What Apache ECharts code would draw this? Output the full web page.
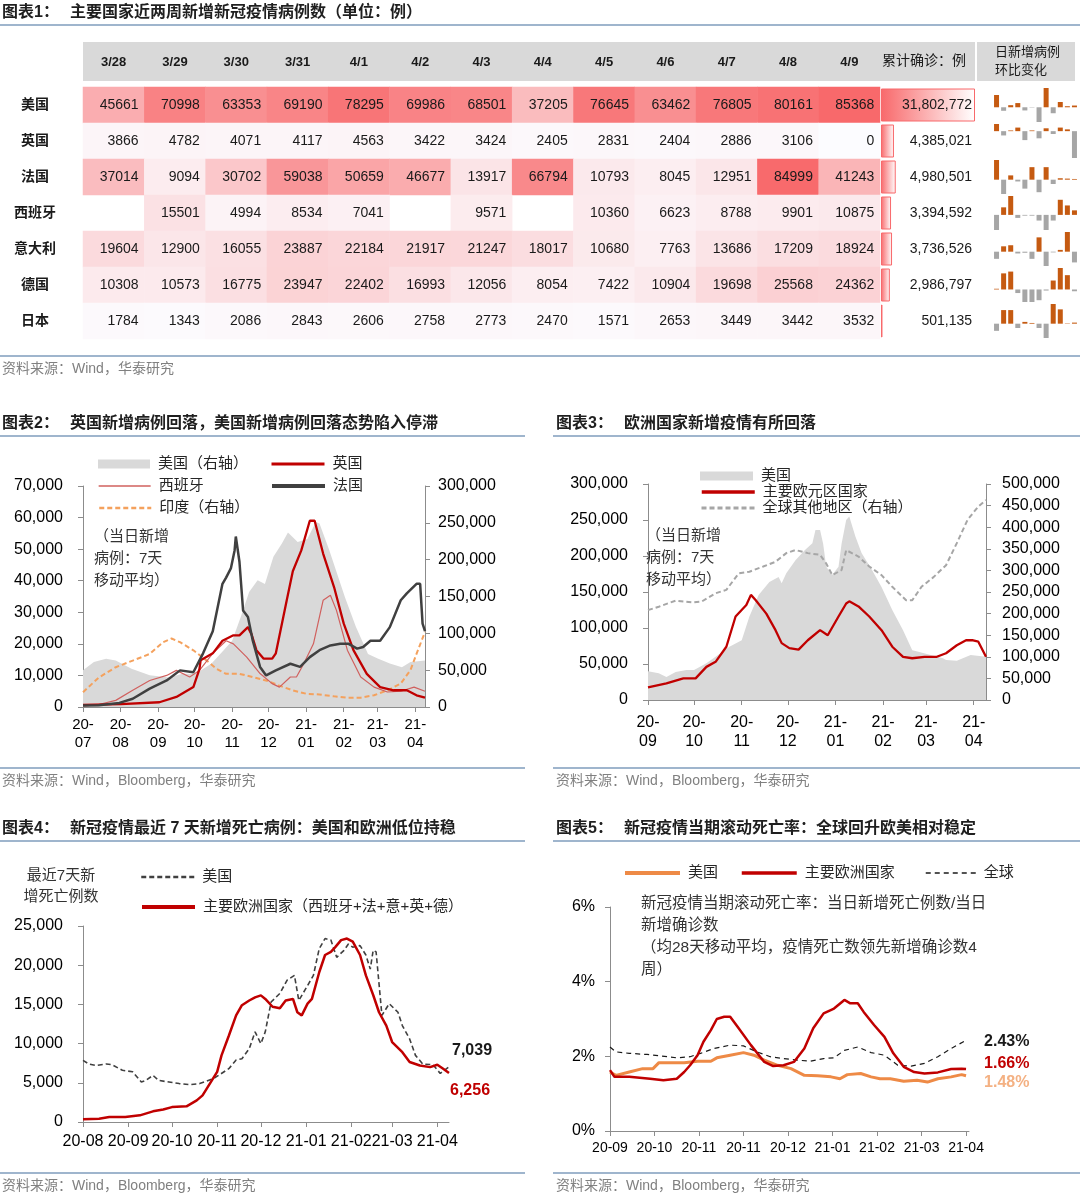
<!DOCTYPE html>
<html><head><meta charset="utf-8">
<script src="https://cdn.jsdelivr.net/npm/echarts@6/dist/echarts.min.js"></script>
<style>html,body{margin:0;padding:0;background:#fff}#main{width:1080px;height:1198px}</style>
</head><body><div id="main"></div>
<script>
const FONT = "'Liberation Sans','Noto Sans CJK SC',sans-serif";

// ---------- Table 1 data ----------
const tableDates = ['3/28','3/29','3/30','3/31','4/1','4/2','4/3','4/4','4/5','4/6','4/7','4/8','4/9'];
const countries = ['美国','英国','法国','西班牙','意大利','德国','日本'];
const casesUS = [45661,70998,63353,69190,78295,69986,68501,37205,76645,63462,76805,80161,85368];
const casesUK = [3866,4782,4071,4117,4563,3422,3424,2405,2831,2404,2886,3106,0];
const casesFR = [37014,9094,30702,59038,50659,46677,13917,66794,10793,8045,12951,84999,41243];
const casesES = [null,15501,4994,8534,7041,null,9571,null,10360,6623,8788,9901,10875];
const casesIT = [19604,12900,16055,23887,22184,21917,21247,18017,10680,7763,13686,17209,18924];
const casesDE = [10308,10573,16775,23947,22402,16993,12056,8054,7422,10904,19698,25568,24362];
const casesJP = [1784,1343,2086,2843,2606,2758,2773,2470,1571,2653,3449,3442,3532];
const cumulative = [31802772,4385021,4980501,3394592,3736526,2986797,501135];
// sparkline (日新增病例环比变化), relative heights
const sparkUS = [35,-10,6,12,-9,-1,-42,55,-17,15,3,5];
const sparkUK = [20,-12,2,10,-25,2,-20,8,-8,10,5,-75];
const sparkFR = [55,-40,12,-5,-25,35,-35,35,-12,4,3,2];
const sparkES = [-40,20,50,-8,-2,-2,-15,-40,-15,40,25,12];
const sparkIT = [-20,15,18,-5,-3,-20,40,-40,-2,5,55,-30];
const sparkDE = [2,45,50,-10,-35,-35,-30,-3,25,60,40,-5];
const sparkJP = [-20,38,38,-12,5,2,-12,-40,55,40,1,3];

// ---------- Chart 2 data (7-day avg) ----------
const c2US = [['2020-07-01',49800],['2020-07-10',61000],['2020-07-20',65600],['2020-07-28',63000],['2020-08-10',52000],['2020-08-25',43000],['2020-09-10',40000],['2020-09-21',45000],['2020-10-02',45000],['2020-10-15',59000],['2020-10-25',77000],['2020-11-01',90000],['2020-11-08',122000],['2020-11-15',156000],['2020-11-22',172000],['2020-11-28',167000],['2020-12-05',204000],['2020-12-12',222000],['2020-12-17',237000],['2020-12-25',224000],['2021-01-02',228000],['2021-01-09',251000],['2021-01-12',249000],['2021-01-20',213000],['2021-02-02',149000],['2021-02-11',109000],['2021-02-21',72000],['2021-03-01',66000],['2021-03-11',59000],['2021-03-21',54000],['2021-03-28',61000],['2021-04-09',63000]];
const c2UK = [['2020-07-01',700],['2020-08-01',900],['2020-09-02',1500],['2020-09-16',3200],['2020-09-30',6300],['2020-10-05',12000],['2020-10-06',14800],['2020-10-16',17000],['2020-10-24',21000],['2020-11-02',22700],['2020-11-07',22700],['2020-11-14',25300],['2020-11-17',23000],['2020-11-21',18000],['2020-11-27',15300],['2020-12-04',15300],['2020-12-07',17000],['2020-12-16',33800],['2020-12-21',43000],['2020-12-28',49600],['2021-01-04',59000],['2021-01-08',59000],['2021-01-15',48600],['2021-01-24',38000],['2021-02-01',26400],['2021-02-09',18000],['2021-02-20',10500],['2021-03-03',6300],['2021-03-14',5300],['2021-03-25',5300],['2021-04-02',3700],['2021-04-09',3000]];
const c2ES = [['2020-07-01',300],['2020-07-14',800],['2020-07-28',2100],['2020-08-11',5300],['2020-08-25',8400],['2020-09-08',10000],['2020-09-16',11600],['2020-09-27',9500],['2020-10-05',11600],['2020-10-16',17000],['2020-10-27',21000],['2020-11-02',20000],['2020-11-13',15800],['2020-11-24',10600],['2020-12-04',7400],['2020-12-10',6300],['2020-12-19',9500],['2020-12-24',9500],['2020-12-30',13700],['2021-01-07',20000],['2021-01-15',33800],['2021-01-21',35400],['2021-01-26',30600],['2021-02-04',18000],['2021-02-15',9500],['2021-02-26',6300],['2021-03-09',4750],['2021-03-20',5000],['2021-03-31',6300],['2021-04-09',5000]];
const c2FR = [['2020-07-01',500],['2020-07-14',550],['2020-07-31',1300],['2020-08-11',2600],['2020-08-25',5800],['2020-09-08',8400],['2020-09-19',11600],['2020-09-30',11000],['2020-10-08',17000],['2020-10-16',24000],['2020-10-24',39000],['2020-10-27',41000],['2020-10-31',44000],['2020-11-03',49600],['2020-11-04',54000],['2020-11-07',46000],['2020-11-10',30600],['2020-11-14',28500],['2020-11-18',21000],['2020-11-24',12700],['2020-11-29',10000],['2020-12-07',11600],['2020-12-19',13700],['2020-12-27',12700],['2021-01-04',15800],['2021-01-12',18000],['2021-01-21',19500],['2021-01-29',20000],['2021-02-05',20000],['2021-02-12',18500],['2021-02-17',19000],['2021-02-23',21000],['2021-03-03',21000],['2021-03-11',25300],['2021-03-20',33800],['2021-03-25',36000],['2021-04-02',39000],['2021-04-05',39000],['2021-04-07',26400],['2021-04-09',24000]];
const c2IN = [['2020-07-01',20000],['2020-07-14',40000],['2020-07-28',54000],['2020-08-11',63000],['2020-08-25',72000],['2020-09-05',88000],['2020-09-12',93000],['2020-09-19',88000],['2020-09-30',77000],['2020-10-11',63000],['2020-10-19',52000],['2020-10-27',45000],['2020-11-07',45000],['2020-11-18',40700],['2020-11-29',36000],['2020-12-10',29000],['2020-12-21',22600],['2021-01-01',18000],['2021-01-12',17000],['2021-01-24',14500],['2021-02-04',12700],['2021-02-15',12700],['2021-02-26',16000],['2021-03-09',22600],['2021-03-20',31700],['2021-03-28',50000],['2021-04-02',72000],['2021-04-09',102000]];

// ---------- Chart 3 data ----------
const c3US = [['2020-09-01',40000],['2020-09-08',37000],['2020-09-13',32000],['2020-09-19',39000],['2020-09-26',41700],['2020-10-01',41700],['2020-10-09',51000],['2020-10-15',60000],['2020-10-24',74000],['2020-11-01',83000],['2020-11-06',116000],['2020-11-12',146000],['2020-11-19',164000],['2020-11-25',171000],['2020-11-27',162000],['2020-11-30',176000],['2020-12-06',194000],['2020-12-12',208000],['2020-12-17',217600],['2020-12-19',236000],['2020-12-22',236000],['2020-12-24',217000],['2020-12-26',185000],['2020-12-30',174000],['2021-01-03',185000],['2021-01-05',217000],['2021-01-08',250000],['2021-01-10',255000],['2021-01-14',227000],['2021-01-18',204000],['2021-01-25',180000],['2021-01-31',157000],['2021-02-07',125000],['2021-02-14',97000],['2021-02-20',69000],['2021-02-24',67000],['2021-03-04',62500],['2021-03-12',58000],['2021-03-14',55500],['2021-03-21',54600],['2021-03-30',62500],['2021-04-09',60000]];
const c3EU = [['2020-09-01',17600],['2020-09-13',23000],['2020-09-24',30000],['2020-10-02',30000],['2020-10-09',46000],['2020-10-15',53000],['2020-10-22',74000],['2020-10-28',116000],['2020-11-04',132000],['2020-11-07',146000],['2020-11-10',139000],['2020-11-17',120000],['2020-11-23',97000],['2020-11-27',79000],['2020-12-02',72000],['2020-12-08',70000],['2020-12-14',83000],['2020-12-22',97000],['2020-12-27',90000],['2021-01-03',116000],['2021-01-08',134000],['2021-01-10',137000],['2021-01-16',130000],['2021-01-23',116000],['2021-01-31',97000],['2021-02-07',74000],['2021-02-14',60000],['2021-02-20',58000],['2021-02-28',60000],['2021-03-08',60000],['2021-03-14',65000],['2021-03-21',76000],['2021-03-27',83000],['2021-03-31',83000],['2021-04-04',81000],['2021-04-09',60000]];
const c3REST = [['2020-09-01',208000],['2020-09-08',216000],['2020-09-19',230000],['2020-09-30',226000],['2020-10-06',228000],['2020-10-15',247000],['2020-10-22',255000],['2020-10-30',293000],['2020-11-06',297000],['2020-11-15',309000],['2020-11-23',320000],['2020-11-30',340000],['2020-12-06',347000],['2020-12-14',340000],['2020-12-22',336000],['2020-12-26',316000],['2020-12-30',289000],['2021-01-05',301000],['2021-01-08',347000],['2021-01-16',332000],['2021-01-23',309000],['2021-01-31',289000],['2021-02-07',262000],['2021-02-16',231000],['2021-02-20',231000],['2021-02-26',262000],['2021-03-06',285000],['2021-03-14',312000],['2021-03-21',363000],['2021-03-28',417000],['2021-04-04',448000],['2021-04-09',463000]];

// ---------- Chart 4 data ----------
const c4US = [['2020-08-01',7860],['2020-08-05',7400],['2020-08-10',7200],['2020-08-17',7400],['2020-08-21',7300],['2020-08-28',6600],['2020-09-04',6400],['2020-09-10',5100],['2020-09-13',5300],['2020-09-18',5950],['2020-09-22',5300],['2020-09-29',5100],['2020-10-06',4900],['2020-10-13',4760],['2020-10-20',4900],['2020-10-29',5500],['2020-11-02',5950],['2020-11-09',6800],['2020-11-14',7900],['2020-11-18',8075],['2020-11-23',9350],['2020-11-27',11500],['2020-12-01',10000],['2020-12-04',11500],['2020-12-08',15300],['2020-12-14',16400],['2020-12-19',18100],['2020-12-24',18700],['2020-12-27',15500],['2021-01-02',17400],['2021-01-06',18700],['2021-01-10',22100],['2021-01-14',23400],['2021-01-18',23200],['2021-01-22',21000],['2021-01-27',21900],['2021-01-30',22700],['2021-02-02',22300],['2021-02-07',22500],['2021-02-11',21300],['2021-02-14',19500],['2021-02-16',21900],['2021-02-18',21700],['2021-02-22',13600],['2021-02-27',15100],['2021-03-05',14000],['2021-03-08',12300],['2021-03-13',10600],['2021-03-17',8500],['2021-03-22',7400],['2021-03-29',7300],['2021-04-03',6200],['2021-04-09',7039]];
const c4EU = [['2020-08-01',340],['2020-08-12',425],['2020-08-19',640],['2020-08-30',640],['2020-09-09',850],['2020-09-18',1360],['2020-09-25',1600],['2020-10-01',1900],['2020-10-11',2000],['2020-10-18',2760],['2020-10-22',3400],['2020-10-27',4900],['2020-11-01',6400],['2020-11-04',8500],['2020-11-09',11000],['2020-11-14',13600],['2020-11-18',14900],['2020-11-23',15500],['2020-11-27',15900],['2020-12-01',16150],['2020-12-04',15700],['2020-12-09',14700],['2020-12-14',14500],['2020-12-18',15500],['2020-12-23',15700],['2020-12-26',14000],['2020-12-29',13600],['2021-01-02',15100],['2021-01-05',15700],['2021-01-10',19100],['2021-01-14',21300],['2021-01-18',21700],['2021-01-21',22300],['2021-01-25',23200],['2021-01-29',23400],['2021-02-02',23000],['2021-02-07',21300],['2021-02-11',18700],['2021-02-16',16200],['2021-02-20',14000],['2021-02-25',12300],['2021-03-01',10200],['2021-03-08',8900],['2021-03-13',7650],['2021-03-20',7200],['2021-03-27',7000],['2021-04-01',7300],['2021-04-05',6800],['2021-04-09',6256]];

// ---------- Chart 5 data (x = position index along axis) ----------
const c5Ticks = ['20-09','20-10','20-11','20-11','20-12','21-01','21-02','21-03','21-04'];
const c5US = [[0,1.58],[4,1.49],[13,1.58],[22,1.67],[29,1.67],[33,1.83],[41,1.83],[50,1.83],[59,1.87],[68,1.87],[72,1.96],[81,2.03],[90,2.10],[97,2.03],[104,1.90],[113,1.76],[122,1.67],[131,1.49],[140,1.48],[149,1.45],[155,1.40],[160,1.51],[169,1.54],[176,1.45],[182,1.40],[189,1.40],[198,1.33],[207,1.36],[214,1.31],[221,1.40],[230,1.45],[237,1.51],[240,1.48]];
const c5EU = [[0,1.63],[3,1.45],[13,1.45],[27,1.40],[36,1.36],[45,1.40],[50,1.58],[54,1.76],[59,2.03],[63,2.39],[68,2.70],[72,3.00],[77,3.06],[81,3.06],[86,2.79],[95,2.30],[104,1.85],[110,1.74],[117,1.76],[124,1.85],[131,2.21],[137,2.75],[144,3.15],[151,3.28],[158,3.51],[162,3.42],[167,3.42],[171,3.19],[178,2.84],[185,2.52],[191,2.08],[198,1.72],[205,1.58],[212,1.54],[221,1.57],[230,1.66],[237,1.67],[240,1.66]];
const c5GL = [[0,2.25],[4,2.12],[13,2.08],[25,2.05],[34,2.01],[45,1.96],[54,1.99],[61,2.08],[70,2.21],[81,2.30],[90,2.28],[99,2.12],[108,1.99],[117,1.94],[126,1.90],[135,1.87],[144,1.94],[151,1.96],[158,2.16],[167,2.25],[176,2.10],[185,2.03],[194,1.76],[203,1.74],[212,1.81],[221,1.99],[230,2.21],[240,2.43]];

// ---------- helpers ----------
function days(a, b) {
  const out = []; let t = Date.parse(a + 'T00:00:00Z'); const e = Date.parse(b + 'T00:00:00Z');
  while (t <= e) { out.push(new Date(t).toISOString().slice(0, 10)); t += 86400000; }
  return out;
}
const fmtNum = v => Number(v).toLocaleString('en-US');
const AX = '#8c8c8c';

const grids = [], xAxes = [], yAxes = [], series = [], legends = [], G = [];
const LBL = {c2us:'美国（右轴）', c2uk:'英国', c2es:'西班牙', c2fr:'法国', c2in:'印度（右轴）',
  c3us:'美国', c3eu:'主要欧元区国家', c3rest:'全球其他地区（右轴）',
  c4us:'美国', c4eu:'主要欧洲国家（西班牙+法+意+英+德）',
  c5us:'美国', c5eu:'主要欧洲国家', c5gl:'全球'};

function T(x, y, text, o) {
  G.push({type:'text', x, y, silent:true, z:50,
    style:Object.assign({text, fontSize:14, fontFamily:FONT, fill:'#262626', verticalAlign:'middle', align:'left'}, o || {})});
}
function Ln(x1, y1, x2, y2, c, w) {
  G.push({type:'line', silent:true, z:50, shape:{x1, y1, x2, y2}, style:{stroke:c || '#7f9dbd', lineWidth:w || 1.5}});
}
function R(x, y, w, h, fill) {
  G.push({type:'rect', silent:true, z:-10, shape:{x, y, width:w, height:h}, style:{fill}});
}
function L(name, left, cy, w, h, item, lw) {
  const lg = {show:true, selectedMode:false, data:[Object.assign({name}, item || {})],
    left, top:cy - 8, itemWidth:w, itemHeight:h, itemGap:0, padding:0,
    itemStyle:{opacity:0},
    formatter:n => LBL[n],
    textStyle:{fontSize:15, lineHeight:16, color:'#262626', fontFamily:FONT, padding:[0,0,0,3]}};
  if (lw) lg.lineStyle = {width:lw};
  legends.push(lg);
}
function dateX(gi, dates, fmt, fs, lh, margin) {
  const isStart = (i, v) => String(v).endsWith('-01');
  return {type:'category', gridIndex:gi, data:dates, boundaryGap:false,
    axisLine:{show:true, lineStyle:{color:AX, width:1}},
    axisTick:{show:true, interval:isStart, length:5, lineStyle:{color:AX}},
    axisLabel:{interval:isStart, formatter:fmt, fontSize:fs, lineHeight:lh, margin, color:'#000', fontFamily:FONT},
    splitLine:{show:false}};
}
function valY(gi, max, interval, pos, margin, fmt, fs) {
  return {type:'value', gridIndex:gi, min:0, max, interval, position:pos,
    axisLine:{show:true, lineStyle:{color:AX}}, axisTick:{show:true, length:5, lineStyle:{color:AX}},
    axisLabel:{formatter:fmt, fontSize:fs, margin, color:'#000', fontFamily:FONT},
    splitLine:{show:false}};
}
function line(name, xi, yi, data, color, width, type, z, extra) {
  return Object.assign({type:'line', name, xAxisIndex:xi, yAxisIndex:yi, data, symbol:'none', showSymbol:false,
    lineStyle:{color, width, type:type || 'solid'}, itemStyle:{color}, z:z || 3,
    emphasis:{disabled:true}, silent:true}, extra || {});
}
const RECT_ITEM = {icon:'rect', itemStyle:{color:'#d9d9d9', opacity:1}};

// ---------- Table 1 ----------
grids.push({left:83, top:87, width:797, height:252});
xAxes.push({type:'category', gridIndex:0, data:tableDates, position:'top',
  axisLine:{show:false}, axisTick:{show:false}, splitLine:{show:false},
  axisLabel:{fontSize:13, fontWeight:'bold', color:'#1a1a1a', margin:18, fontFamily:FONT}});
yAxes.push({type:'category', gridIndex:0, data:countries, inverse:true,
  axisLine:{show:false}, axisTick:{show:false}, splitLine:{show:false},
  axisLabel:{fontSize:14, fontWeight:'bold', color:'#1a1a1a', margin:48, align:'center', fontFamily:FONT}});
const rows = [casesUS, casesUK, casesFR, casesES, casesIT, casesDE, casesJP];
const heatData = [];
rows.forEach((r, ri) => r.forEach((v, ci) => { if (v !== null) heatData.push([ci, ri, v]); }));
series.push({type:'heatmap', xAxisIndex:0, yAxisIndex:0, data:heatData, silent:true,
  label:{show:true, position:'insideRight', distance:6, fontSize:14, color:'#1a1a1a', fontFamily:FONT, formatter:p => p.value[2]},
  emphasis:{disabled:true}});

// cumulative
grids.push({left:881, top:87, width:94, height:252});
xAxes.push({type:'value', gridIndex:1, min:0, max:cumulative[0], show:false});
yAxes.push({type:'category', gridIndex:1, data:countries, inverse:true, show:false});
series.push({type:'bar', xAxisIndex:1, yAxisIndex:1, data:cumulative, barWidth:33, silent:true,
  itemStyle:{color:new echarts.graphic.LinearGradient(0, 0, 1, 0, [{offset:0, color:'#f8696b'}, {offset:1, color:'#ffffff'}]),
    borderColor:'#f8696b', borderWidth:1}});
series.push({type:'bar', xAxisIndex:1, yAxisIndex:1, data:cumulative.map(() => cumulative[0]), barWidth:33, barGap:'-100%', silent:true, z:5,
  itemStyle:{color:'rgba(0,0,0,0)'},
  label:{show:true, position:'insideRight', distance:3, fontSize:14, color:'#1a1a1a', fontFamily:FONT,
    formatter:p => fmtNum(cumulative[p.dataIndex])}});

// sparklines
const sparks = [sparkUS, sparkUK, sparkFR, sparkES, sparkIT, sparkDE, sparkJP];
sparks.forEach((s, i) => {
  const gi = grids.length;
  grids.push({left:993, top:87 + i * 36 + 1, width:85, height:34});
  xAxes.push({type:'category', gridIndex:gi, data:s.map((_, k) => k), show:false});
  yAxes.push({type:'value', gridIndex:gi, show:false, min:v => Math.min(0, v.min), max:v => Math.max(0, v.max)});
  series.push({type:'bar', xAxisIndex:gi, yAxisIndex:gi, data:s, barWidth:5, silent:true,
    itemStyle:{color:p => p.value >= 0 ? '#c55a11' : '#a6a6a6'}});
});

// ---------- Chart 2 ----------
const c2Dates = days('2020-07-01', '2021-04-09');
grids.push({left:83, top:486, width:342, height:221});
xAxes.push(dateX(9, c2Dates, v => v.slice(2, 4) + '-\n' + v.slice(5, 7), 15, 18, 9));
yAxes.push(valY(9, 70000, 10000, 'left', 20, fmtNum, 16));
yAxes.push(valY(9, 300000, 50000, 'right', 13, fmtNum, 16));
series.push(line('c2us', 9, 10, c2US, '#d9d9d9', 0, 'solid', 1, {areaStyle:{color:'#d9d9d9', opacity:1}}));
series.push(line('c2in', 9, 10, c2IN, '#f4a15d', 2, [5, 3], 3));
series.push(line('c2es', 9, 9, c2ES, '#d0605e', 1.2, 'solid', 3));
series.push(line('c2uk', 9, 9, c2UK, '#c00000', 2.3, 'solid', 4));
series.push(line('c2fr', 9, 9, c2FR, '#404040', 2.5, 'solid', 5));
L('c2us', 98, 464, 52, 9, RECT_ITEM);
L('c2es', 98, 486, 52, 10, null, 1.3);
L('c2in', 98, 508, 52, 10, null, 2.5);
L('c2uk', 270, 464, 53, 10, null, 3);
L('c2fr', 270, 486, 53, 10, null, 4);

// ---------- Chart 3 ----------
const c3Dates = days('2020-09-01', '2021-04-09');
grids.push({left:648, top:484, width:338, height:216});
xAxes.push(dateX(10, c3Dates, v => v.slice(2, 4) + '-\n' + v.slice(5, 7), 16, 19, 13));
yAxes.push(valY(10, 300000, 50000, 'left', 20, fmtNum, 16));
yAxes.push(valY(10, 500000, 50000, 'right', 16, fmtNum, 16));
series.push(line('c3us', 10, 11, c3US, '#d9d9d9', 0, 'solid', 1, {areaStyle:{color:'#d9d9d9', opacity:1}}));
series.push(line('c3rest', 10, 12, c3REST, '#a6a6a6', 2, [5, 3], 3));
series.push(line('c3eu', 10, 11, c3EU, '#c00000', 2.3, 'solid', 4));
L('c3us', 700, 476, 53, 9, RECT_ITEM);
L('c3eu', 700, 492, 53, 10, null, 3.5);
L('c3rest', 700, 508, 53, 10, null, 3);

// ---------- Chart 4 ----------
const c4Dates = days('2020-08-01', '2021-04-09');
grids.push({left:83, top:926, width:366, height:196});
xAxes.push(dateX(11, c4Dates, v => v.slice(2, 4) + '-' + v.slice(5, 7), 16, 18, 11));
yAxes.push(valY(11, 25000, 5000, 'left', 20, fmtNum, 16));
series.push(line('c4us', 11, 13, c4US, '#404040', 1.6, [5, 3], 3, {
  endLabel:{show:true, formatter:p => fmtNum(p.value[1]), color:'#1a1a1a', fontWeight:'bold', fontSize:16, fontFamily:FONT, distance:3, offset:[0, -16]}}));
series.push(line('c4eu', 11, 13, c4EU, '#c00000', 2.5, 'solid', 4, {
  endLabel:{show:true, formatter:p => fmtNum(p.value[1]), color:'#c00000', fontWeight:'bold', fontSize:16, fontFamily:FONT, distance:1, offset:[0, 18]}}));
L('c4us', 140, 877, 53, 10, null, 2.5);
L('c4eu', 140, 907, 53, 10, null, 4);

// ---------- Chart 5 ----------
const c5Cats = Array.from({length:243}, (_, i) => String(i));
grids.push({left:610, top:907, width:359, height:224});
xAxes.push({type:'category', gridIndex:12, data:c5Cats, boundaryGap:false,
  axisLine:{show:true, lineStyle:{color:AX}},
  axisTick:{show:true, interval:i => i % 30 === 0, length:5, lineStyle:{color:AX}},
  axisLabel:{interval:i => i % 30 === 0, formatter:(v, i) => c5Ticks[i / 30] || '', fontSize:14, margin:10, color:'#000', fontFamily:FONT},
  splitLine:{show:false}});
yAxes.push(valY(12, 6, 2, 'left', 15, v => v + '%', 16));
series.push(line('c5gl', 12, 14, c5GL, '#1a1a1a', 1.2, [5, 4], 3, {
  endLabel:{show:true, formatter:p => p.value[1].toFixed(2) + '%', color:'#1a1a1a', fontWeight:'bold', fontSize:16, fontFamily:FONT, distance:18, offset:[0, 1]}}));
series.push(line('c5us', 12, 14, c5US, '#ee8a46', 3, 'solid', 4, {
  endLabel:{show:true, formatter:p => p.value[1].toFixed(2) + '%', color:'#f4b183', fontWeight:'bold', fontSize:16, fontFamily:FONT, distance:18, offset:[0, 7]}}));
series.push(line('c5eu', 12, 14, c5EU, '#c00000', 2.5, 'solid', 5, {
  endLabel:{show:true, formatter:p => p.value[1].toFixed(2) + '%', color:'#c00000', fontWeight:'bold', fontSize:16, fontFamily:FONT, distance:18, offset:[0, -5]}}));
L('c5us', 623, 873, 55, 10, null, 4);
L('c5eu', 740, 873, 55, 10, null, 3.5);
L('c5gl', 925, 873, 50, 10, null, 1.5);

// ---------- text / decorations ----------
const TB = {fontSize:16, fontWeight:'bold', fill:'#1f1f1f'};
T(2, 13, '图表1：', TB); T(70, 13, '主要国家近两周新增新冠疫情病例数（单位：例）', TB);
T(2, 424, '图表2：', TB); T(70, 424, '英国新增病例回落，美国新增病例回落态势陷入停滞', TB);
T(556, 424, '图表3：', TB); T(624, 424, '欧洲国家新增疫情有所回落', TB);
T(2, 829, '图表4：', TB); T(70, 829, '新冠疫情最近 7 天新增死亡病例：美国和欧洲低位持稳', TB);
T(556, 829, '图表5：', TB); T(624, 829, '新冠疫情当期滚动死亡率：全球回升欧美相对稳定', TB);
Ln(0, 25, 1080, 25); Ln(0, 356, 1080, 356);
Ln(0, 436, 525, 436); Ln(553, 436, 1080, 436);
Ln(0, 768, 525, 768); Ln(553, 768, 1080, 768);
Ln(0, 841, 525, 841); Ln(553, 841, 1080, 841);
Ln(0, 1173, 525, 1173); Ln(553, 1173, 1080, 1173);
const SRC = {fontSize:14, fill:'#808080'};
T(2, 369, '资料来源：Wind，华泰研究', SRC);
T(2, 781, '资料来源：Wind，Bloomberg，华泰研究', SRC);
T(556, 781, '资料来源：Wind，Bloomberg，华泰研究', SRC);
T(2, 1186, '资料来源：Wind，Bloomberg，华泰研究', SRC);
T(556, 1186, '资料来源：Wind，Bloomberg，华泰研究', SRC);
// table header
R(83, 42, 892, 39, '#d9d9d9');
R(977, 42, 98, 39, '#d9d9d9');
T(882, 61, '累计确诊：例', {fontSize:14, fill:'#1a1a1a'});
T(995, 52, '日新增病例', {fontSize:13, fill:'#1a1a1a'});
T(995, 70, '环比变化', {fontSize:13, fill:'#1a1a1a'});
// annotations
const NOTE = {fontSize:15, fill:'#333333', verticalAlign:'top', lineHeight:22};
T(94, 526, '（当日新增\n病例：7天\n移动平均）', NOTE);
T(646, 525, '（当日新增\n病例：7天\n移动平均）', NOTE);
T(61, 865, '最近7天新\n增死亡例数', Object.assign({}, NOTE, {align:'center', lineHeight:21}));
T(641, 893, '新冠疫情当期滚动死亡率：当日新增死亡例数/当日\n新增确诊数\n（均28天移动平均，疫情死亡数领先新增确诊数4\n周）', Object.assign({}, NOTE, {fontSize:15.5}));

const chart = echarts.init(document.getElementById('main'), null, {renderer:'canvas'});
chart.setOption({
  animation:false, backgroundColor:'#ffffff',
  textStyle:{fontFamily:FONT},
  grid:grids, xAxis:xAxes, yAxis:yAxes,
  visualMap:[{type:'continuous', show:false, seriesIndex:0, dimension:2, min:0, max:85368, inRange:{color:['#fcfcff', '#f8696b']}}],
  legend:legends,
  graphic:{elements:G},
  series
});
</script></body></html>
